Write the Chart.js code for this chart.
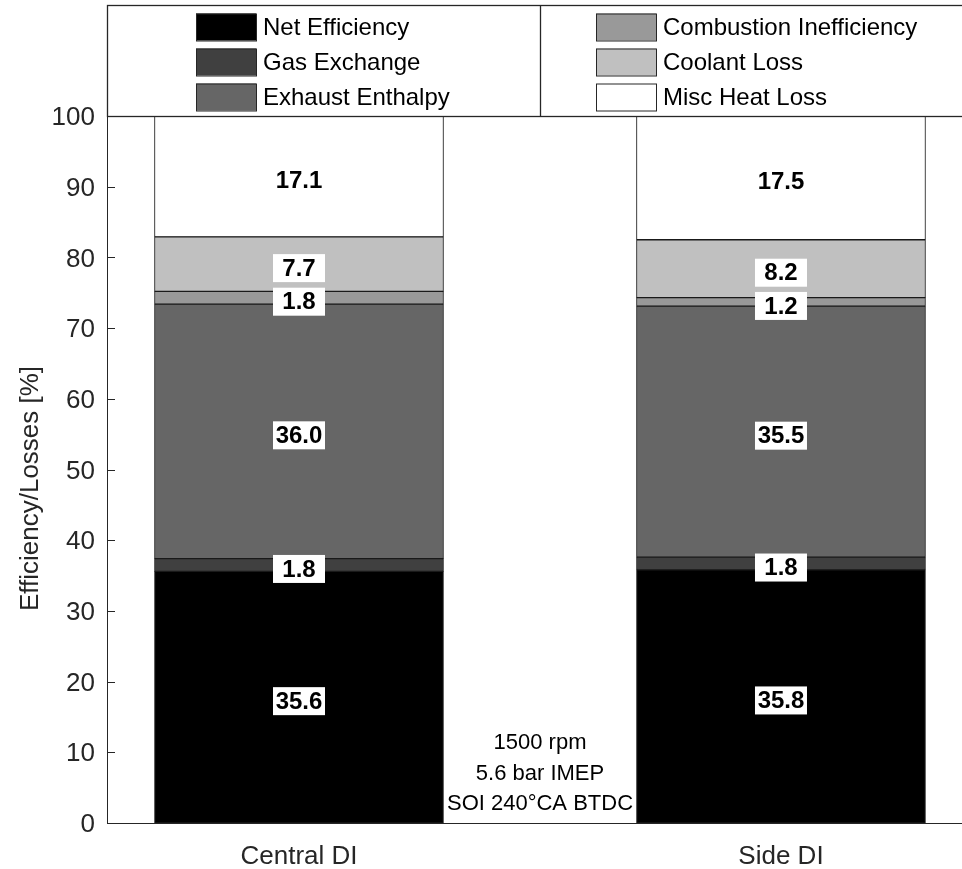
<!DOCTYPE html>
<html><head><meta charset="utf-8">
<script src="https://cdn.jsdelivr.net/npm/chart.js@4/dist/chart.umd.min.js"></script>
<style>html,body{margin:0;padding:0;background:#fff;overflow:hidden}
#wrap{position:relative;width:1000px;height:869px}</style>
</head><body><div id="wrap"><canvas id="c"></canvas></div>
<script>
// ---- data ----
const categories = ['Central DI', 'Side DI'];
const seriesNames = ['Net Efficiency', 'Gas Exchange', 'Exhaust Enthalpy', 'Combustion Inefficiency', 'Coolant Loss', 'Misc Heat Loss'];
const netEfficiency = [35.6, 35.8];
const gasExchange = [1.8, 1.8];
const exhaustEnthalpy = [36.0, 35.5];
const combustionInefficiency = [1.8, 1.2];
const coolantLoss = [7.7, 8.2];
const miscHeatLoss = [17.1, 17.5];
const yTickValues = [0, 10, 20, 30, 40, 50, 60, 70, 80, 90, 100];
const yAxisTitle = 'Efficiency/Losses [%]';
const annotationLines = ['1500 rpm', '5.6 bar IMEP', 'SOI 240°CA BTDC'];
const seriesColors = ['#000000', '#404040', '#666666', '#999999', '#c0c0c0', '#ffffff'];

const FONT = '"Liberation Sans", Arial, Helvetica, sans-serif';
const AXIS_COLOR = '#262626';
const seriesValues = [netEfficiency, gasExchange, exhaustEnthalpy, combustionInefficiency, coolantLoss, miscHeatLoss];

const datasets = seriesValues.map((vals, s) => ({
  label: seriesNames[s],
  data: vals.map((v, i) => ({ x: i + 1, y: v })),
  backgroundColor: seriesColors[s],
  borderColor: '#1a1a1a',
  borderWidth: 1,
  borderSkipped: false,
  barThickness: 289
}));

const inwardTicks = {
  id: 'inwardTicks',
  afterDraw(chart) {
    const { ctx, chartArea: a, scales: { y } } = chart;
    ctx.save();
    ctx.strokeStyle = AXIS_COLOR; ctx.lineWidth = 1;
    y.ticks.forEach(t => {
      const py = Math.round(y.getPixelForValue(t.value)) + 0.5;
      ctx.beginPath(); ctx.moveTo(a.left, py); ctx.lineTo(a.left + 8, py); ctx.stroke();
    });
    ctx.restore();
  }
};

const yTitle = {
  id: 'yTitle',
  afterDraw(chart) {
    const { ctx, chartArea: a } = chart;
    ctx.save();
    ctx.translate(31, (a.top + a.bottom) / 2 + 19);
    ctx.rotate(-Math.PI / 2);
    ctx.font = '26px ' + FONT; ctx.fillStyle = AXIS_COLOR;
    ctx.textAlign = 'center'; ctx.textBaseline = 'middle';
    ctx.fillText(yAxisTitle, 0, 0);
    ctx.restore();
  }
};

const barLabels = {
  id: 'barLabels',
  afterDatasetsDraw(chart) {
    const ctx = chart.ctx;
    ctx.save();
    ctx.font = 'bold 24px ' + FONT;
    ctx.textAlign = 'center'; ctx.textBaseline = 'middle';
    chart.data.datasets.forEach((ds, di) => {
      const meta = chart.getDatasetMeta(di);
      meta.data.forEach((el, i) => {
        const txt = ds.data[i].y.toFixed(1);
        const cx = el.x, cy = (el.y + el.base) / 2 + 4;
        ctx.fillStyle = '#ffffff';
        ctx.fillRect(cx - 26, cy - 14, 52, 28);
        ctx.fillStyle = '#000000';
        ctx.fillText(txt, cx, cy + 1);
      });
    });
    ctx.restore();
  }
};

const annotation = {
  id: 'annotation',
  afterDraw(chart) {
    const { ctx, scales: { x, y } } = chart;
    const cx = x.getPixelForValue(1.5);
    ctx.save();
    ctx.font = '22px ' + FONT; ctx.fillStyle = '#000';
    ctx.textAlign = 'center'; ctx.textBaseline = 'middle';
    annotationLines.forEach((t, i) => {
      ctx.fillText(t, cx, y.getPixelForValue(0) - 80 + i * 30.5);
    });
    ctx.restore();
  }
};

const boxLegend = {
  id: 'boxLegend',
  afterDraw(chart) {
    const { ctx, chartArea: a } = chart;
    const top = 5, bottom = a.top, left = a.left, right = chart.width + 5, mid = 540;
    ctx.save();
    ctx.fillStyle = '#fff'; ctx.fillRect(left, top, right - left, bottom - top);
    ctx.strokeStyle = AXIS_COLOR; ctx.lineWidth = 1.3;
    ctx.strokeRect(left + 0.5, top + 0.5, right - left, bottom - top);
    ctx.beginPath(); ctx.moveTo(mid + 0.5, top); ctx.lineTo(mid + 0.5, bottom); ctx.stroke();
    const cols = [{ sx: 196, tx: 263 }, { sx: 596, tx: 663 }];
    const rowY = [27, 62, 97];
    chart.data.datasets.forEach((ds, i) => {
      const c = cols[Math.floor(i / 3)], ry = rowY[i % 3];
      ctx.fillStyle = ds.backgroundColor; ctx.fillRect(c.sx, ry - 13.5, 60, 27);
      ctx.strokeStyle = AXIS_COLOR; ctx.lineWidth = 1; ctx.strokeRect(c.sx + 0.5, ry - 13.5 + 0.5, 60, 27);
      ctx.fillStyle = '#000'; ctx.font = '24px ' + FONT;
      ctx.textBaseline = 'middle'; ctx.textAlign = 'left';
      ctx.fillText(ds.label, c.tx, ry + 1);
    });
    ctx.restore();
  }
};

new Chart(document.getElementById('c'), {
  type: 'bar',
  data: { datasets },
  plugins: [inwardTicks, yTitle, barLabels, annotation, boxLegend],
  options: {
    responsive: true, maintainAspectRatio: false, animation: false,
    layout: { padding: { top: 116, left: 0, right: 0, bottom: 0 } },
    plugins: { legend: { display: false }, tooltip: { enabled: false } },
    scales: {
      x: {
        type: 'linear', stacked: true, offset: false,
        min: 0.60166, max: 2.4544,
        afterBuildTicks: s => { s.ticks = categories.map((c, i) => ({ value: i + 1 })); },
        afterFit: s => { s.height = 46; },
        grid: { display: false, drawTicks: false },
        border: { display: true, color: AXIS_COLOR, width: 1 },
        ticks: {
          padding: 18, color: AXIS_COLOR, font: { family: FONT, size: 26 },
          callback: v => categories[Math.round(v) - 1] || ''
        }
      },
      y: {
        stacked: true, min: 0, max: 100,
        afterBuildTicks: s => { s.ticks = yTickValues.map(v => ({ value: v })); },
        afterFit: s => { s.width = 107; },
        grid: { display: false, drawTicks: false },
        border: { display: true, color: AXIS_COLOR, width: 1 },
        ticks: { padding: 12, labelOffset: 2, color: AXIS_COLOR, font: { family: FONT, size: 26 } }
      }
    }
  }
});
</script></body></html>
